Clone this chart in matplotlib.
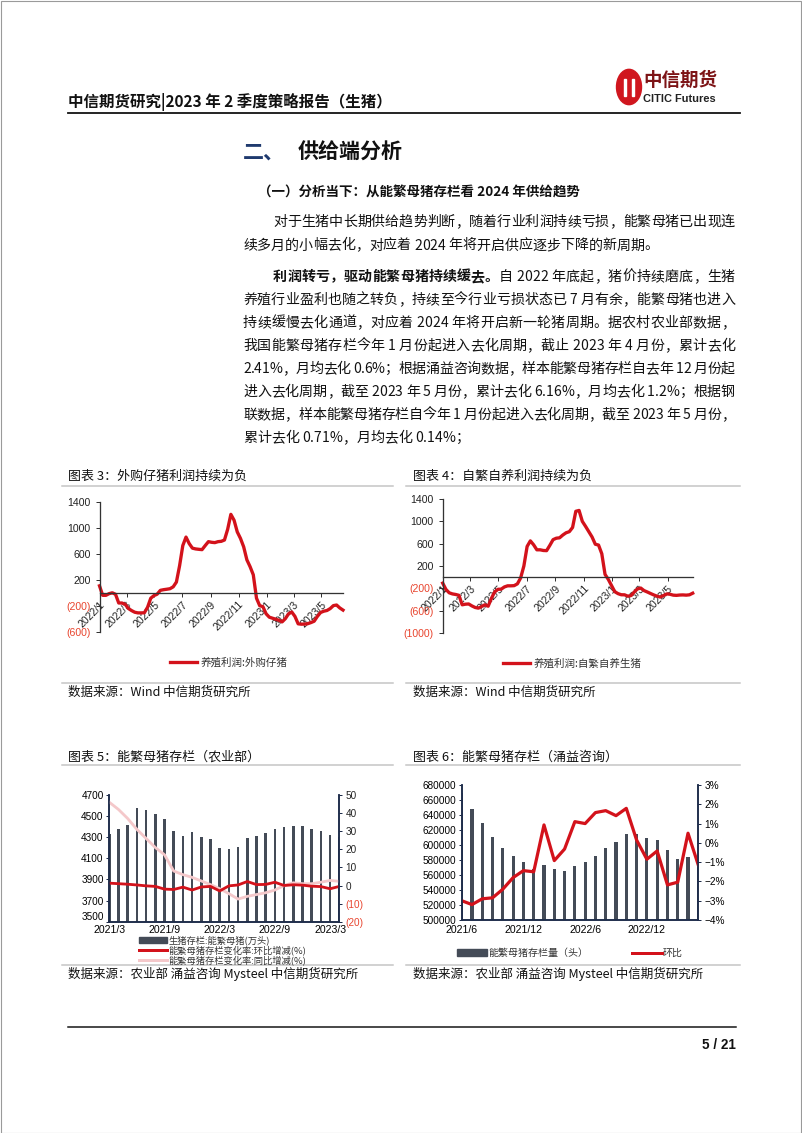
import numpy as np
import pandas as pd
import matplotlib
matplotlib.use('Agg')
import matplotlib.pyplot as plt
from matplotlib.patches import Rectangle, Circle, Patch
from matplotlib.lines import Line2D
from matplotlib.font_manager import FontProperties

plt.rcParams['font.family'] = ['Noto Sans CJK SC', 'DejaVu Sans']
plt.rcParams['axes.unicode_minus'] = False

# ---------------- data ----------------
# 图表3 外购仔猪养殖利润(元/头), 周度, 自2022/1起
profit_buy = [110, -36, -36, -10, 3, -20, -154, -154, -174, -238, -270, -296, -306, -306,
              -304, -220, -80, -40, -18, 41, 51, 58, 66, 95, 168, 420, 730, 860, 760, 690,
              678, 672, 667, 730, 790, 780, 775, 790, 795, 815, 980, 1210, 1120, 940, 840,
              710, 510, 405, 280, -80, -195, -210, -320, -372, -388, -403, -420, -444, -395,
              -320, -292, -360, -474, -480, -478, -472, -455, -434, -360, -300, -280, -269,
              -240, -194, -185, -230, -263]
# 图表4 自繁自养养殖利润(元/头), 周度
profit_self = [-107, -220, -280, -300, -310, -325, -495, -484, -480, -515, -543, -555, -525,
               -495, -520, -380, -265, -218, -215, -175, -155, -155, -152, -120, -15, 200,
               550, 650, 580, 490, 490, 478, 475, 570, 672, 698, 705, 755, 795, 815, 890,
               1180, 1195, 1000, 910, 815, 720, 590, 575, 420, 50, -40, -150, -260, -295,
               -315, -316, -340, -330, -265, -210, -195, -240, -265, -292, -318, -340, -356,
               -330, -300, -306, -322, -326, -320, -318, -322, -316, -287]
profit_ticks = ['2022/1', '2022/3', '2022/5', '2022/7', '2022/9', '2022/11', '2023/1', '2023/3', '2023/5']

# 图表5 农业部: 能繁母猪存栏(万头), 环比/同比(%), 2021/3-2023/4
sows_moa = [4330, 4378, 4416, 4580, 4555, 4517, 4473, 4362, 4312, 4346, 4305, 4283, 4198,
            4192, 4204, 4293, 4312, 4343, 4375, 4394, 4403, 4403, 4381, 4359, 4321, 4299]
mom_moa = [1.3, 1.0, 0.7, 0.3, -0.2, -0.5, -2.0, -2.2, -0.9, -2.5, -0.8, -0.5, -3.0,
           -0.2, 0.3, 2.2, 0.5, 0.6, 1.8, 0.0, 0.4, 0.2, -0.4, -0.6, -1.8, -0.5]
yoy_moa = [46, 42, 37, 31, 26, 21, 17, 8, 6, 4.5, 2.5, 0.5, -1.8, -4.5, -7.5, -6.0, -5.0,
           -4.0, -2.5, 0.0, 1.5, 1.0, 1.0, 1.8, 2.8, 2.3]
months_moa = [f'{p.year}/{p.month}' for p in pd.period_range('2021-03', periods=26, freq='M')]

# 图表6 涌益咨询: 能繁母猪存栏量(头), 环比(%), 2021/6-2023/5
sows_yy = [669800, 648000, 629000, 611000, 596000, 585000, 577000, 568000, 573000, 568000,
           566000, 572000, 577000, 586000, 596000, 604000, 615000, 615000, 610000, 607000,
           594000, 582000, 584000, 577000]
mom_yy = [-3.0, -3.2, -2.9, -2.85, -2.4, -1.8, -1.44, -1.5, 0.93, -0.92, -0.32, 1.1, 1.0,
          1.57, 1.67, 1.41, 1.79, 0.15, -0.85, -0.42, -2.18, -2.04, 0.5, -1.15]
months_yy = [f'{p.year}/{p.month}' for p in pd.period_range('2021-06', periods=24, freq='M')]

para1 = [
    [("对于生猪中长期供给趋势判断，随着行业利润持续亏损，能繁母猪已出现连", 'normal')],
    [("续多月的小幅去化，对应着 2024 年将开启供应逐步下降的新周期。", 'normal')],
]
para2 = [
    [("利润转亏，驱动能繁母猪持续缓去。", 'bold'), ("自 2022 年底起，猪价持续磨底，生猪", 'normal')],
    [("养殖行业盈利也随之转负，持续至今行业亏损状态已 7 月有余，能繁母猪也进入", 'normal')],
    [("持续缓慢去化通道，对应着 2024 年将开启新一轮猪周期。据农村农业部数据，", 'normal')],
    [("我国能繁母猪存栏今年 1 月份起进入去化周期，截止 2023 年 4 月份，累计去化", 'normal')],
    [("2.41%，月均去化 0.6%；根据涌益咨询数据，样本能繁母猪存栏自去年 12 月份起", 'normal')],
    [("进入去化周期，截至 2023 年 5 月份，累计去化 6.16%，月均去化 1.2%；根据钢", 'normal')],
    [("联数据，样本能繁母猪存栏自今年 1 月份起进入去化周期，截至 2023 年 5 月份，", 'normal')],
    [("累计去化 0.71%，月均去化 0.14%；", 'normal')],
]

# ---------------- style ----------------
W, H = 802, 1133
RED = '#d3121b'
NEG = '#e8452f'
BAR = '#444b57'
PINK = '#f4c8ca'
NAVY = '#1e2c4b'
GRID = '#c4c4c4'
NUM = ['Liberation Sans', 'DejaVu Sans']
CJK = ['Noto Sans CJK SC', 'DejaVu Sans']

fig = plt.figure(figsize=(W / 100, H / 100), dpi=100)


def fx(x):
    return x / W


def fy(y):
    return 1 - y / H


def pt(px):
    return px * 0.72


def txt(x, y, s, px, **kw):
    kw.setdefault('va', 'center')
    fig.text(fx(x), fy(y), s, fontsize=pt(px), **kw)


def hline(x0, x1, y, color=GRID, lw_px=1.5):
    fig.add_artist(Line2D([fx(x0), fx(x1)], [fy(y), fy(y)], color=color,
                          lw=pt(lw_px), transform=fig.transFigure))


def axes_px(l, t, r, b):
    return fig.add_axes([fx(l), fy(b), (r - l) / W, (b - t) / H])


def paren(v):
    return f'({abs(int(v))})' if v < 0 else f'{int(v)}'


# page frame
fig.add_artist(Rectangle((0.5 / W, 0.5 / H), 1 - 1.5 / W, 1 - 1.5 / H, fill=False,
                         edgecolor='#9a9a9a', lw=0.8, transform=fig.transFigure))

# ---------------- header ----------------
txt(68, 102, '中信期货研究|2023 年 2 季度策略报告（生猪）', 15.5, weight='bold', color='#111')
hline(68, 740, 113, color='#111', lw_px=1.8)
fig.add_artist(Circle((fx(629), fy(87)), 12.5 / W, color='#d0161e', transform=fig.transFigure))
fig.add_artist(Rectangle((fx(624), fy(96)), 2.2 / W, 17 / H, color='white', transform=fig.transFigure))
fig.add_artist(Rectangle((fx(632), fy(96)), 2.2 / W, 17 / H, color='white', transform=fig.transFigure))
txt(643, 80, '中信期货', 18.5, weight='bold', color='#7d1416')
txt(643, 99, 'CITIC Futures', 11, weight='bold', color='#222', family=NUM)

txt(243, 152, '二、', 21, weight='bold', color='#1f3a6e')
txt(298, 152, '供给端分析', 21, weight='bold', color='#111')
txt(258, 193, '（一）分析当下：从能繁母猪存栏看 2024 年供给趋势', 13.5, weight='bold', color='#111')

# ---------------- body text (justified) ----------------
renderer = fig.canvas.get_renderer()
props = {w: FontProperties(family=CJK, size=pt(14), weight=w) for w in ('normal', 'bold')}
_cache = {}


def adv(ch, w):
    key = (ch, w)
    if key not in _cache:
        p = props[w]
        a = renderer.get_text_width_height_descent('字' + ch + '字', p, ismath=False)[0]
        b = renderer.get_text_width_height_descent('字字', p, ismath=False)[0]
        _cache[key] = a - b
    return _cache[key]


def put_line(x0, x1, y, segs, justify):
    chars = [(c, w) for s, w in segs for c in s]
    widths = [adv(c, w) for c, w in chars]
    gap = (x1 - x0 - sum(widths)) / (len(chars) - 1) if justify else 0
    x = x0
    for (c, w), cw in zip(chars, widths):
        if c != ' ':
            fig.text(fx(x), fy(y), c, fontproperties=props[w], va='center', ha='left', color='#111')
        x += cw + gap


def put_para(lines, y0, step):
    for i, segs in enumerate(lines):
        x0 = 273 if i == 0 else 243
        put_line(x0, 735, y0 + i * step, segs, i < len(lines) - 1)


put_para(para1, 222, 23.5)
put_para(para2, 277, 23)

# ---------------- chart titles / sources ----------------
txt(68, 476, '图表 3：外购仔猪利润持续为负', 13, color='#111')
txt(413, 476, '图表 4：自繁自养利润持续为负', 13, color='#111')
hline(62, 393, 486)
hline(406, 740, 486)
hline(62, 393, 683)
hline(406, 740, 683)
txt(68, 692, '数据来源：Wind 中信期货研究所', 12.5, color='#111')
txt(413, 692, '数据来源：Wind 中信期货研究所', 12.5, color='#111')

txt(68, 757, '图表 5：能繁母猪存栏（农业部）', 13, color='#111')
txt(413, 757, '图表 6：能繁母猪存栏（涌益咨询）', 13, color='#111')
hline(62, 393, 765)
hline(406, 740, 765)
hline(62, 393, 965)
hline(406, 740, 965)
txt(68, 974, '数据来源：农业部 涌益咨询 Mysteel 中信期货研究所', 12.5, color='#111')
txt(413, 974, '数据来源：农业部 涌益咨询 Mysteel 中信期货研究所', 12.5, color='#111')

hline(68, 736, 1027, color='#111', lw_px=1.5)
txt(736, 1045, '5 / 21', 13.5, ha='right', weight='bold', color='#111', family=NUM)


# ---------------- profit charts ----------------
def profit_chart(rect, values, yticks, label, leg_x, leg_y):
    ax = axes_px(*rect)
    dates = pd.date_range('2022-01-01', periods=len(values), freq='7D')
    ax.plot(dates, values, color=RED, lw=pt(3.3), solid_joinstyle='round', clip_on=False)
    ax.set_ylim(yticks[0], yticks[-1])
    ax.set_xlim(dates[0], dates[-1])
    ax.patch.set_alpha(0)
    ax.spines[['top', 'right']].set_visible(False)
    ax.spines['bottom'].set_position(('data', 0))
    for s in ('left', 'bottom'):
        ax.spines[s].set_color('#333')
        ax.spines[s].set_linewidth(pt(1.3))
    ax.set_yticks(yticks, [paren(v) for v in yticks], fontfamily=NUM)
    for lab, v in zip(ax.get_yticklabels(), yticks):
        lab.set_color(NEG if v < 0 else '#222')
    ticks = [pd.Timestamp(t.replace('/', '-') + '-01') for t in profit_ticks]
    ax.set_xticks(ticks, profit_ticks, rotation=45, ha='right', rotation_mode='anchor',
                  fontfamily=NUM, color='#222')
    ax.tick_params(axis='both', labelsize=pt(10.5), length=3, width=pt(1), color='#333', pad=1.5)
    ax.tick_params(axis='y', pad=3.5)
    h = Line2D([], [], color=RED, lw=pt(3.3))
    fig.legend([h], [label], loc='center left', bbox_to_anchor=(fx(leg_x), fy(leg_y)),
               bbox_transform=fig.transFigure, frameon=False, fontsize=pt(10.5),
               handlelength=2.6, handletextpad=0.3, borderpad=0, borderaxespad=0,
               labelcolor='#333')
    return ax


profit_chart((99.5, 502, 343, 632), profit_buy, [-600, -200, 200, 600, 1000, 1400],
             '养殖利润:外购仔猪', 170, 662)
profit_chart((442.7, 499, 692.7, 633), profit_self, [-1000, -600, -200, 200, 600, 1000, 1400],
             '养殖利润:自繁自养生猪', 503, 663)


def style_dual(ax, axr, xpad):
    for a in (ax, axr):
        a.spines['top'].set_visible(False)
        for s in ('left', 'right', 'bottom'):
            a.spines[s].set_color(NAVY)
            a.spines[s].set_linewidth(pt(1.6))
    ax.tick_params(axis='x', length=0, labelsize=pt(10.5), pad=xpad)
    ax.tick_params(axis='y', length=2.5, width=pt(1), color=NAVY, labelsize=pt(10), pad=1.5)
    axr.tick_params(axis='y', length=2.5, width=pt(1), color=NAVY, labelsize=pt(10), pad=2)


# ---------------- chart 5 ----------------
ax5 = axes_px(109.3, 795, 339.3, 921.7)
x5 = np.arange(len(sows_moa))
ax5.bar(x5, sows_moa, width=0.3, color=BAR)
ax5.set_ylim(3500, 4700)
ax5.set_xlim(x5[0], x5[-1])
ax5r = ax5.twinx()
ax5r.plot(x5, yoy_moa, color=PINK, lw=pt(2.8))
ax5r.plot(x5, mom_moa, color=RED, lw=pt(2.8))
ax5r.set_ylim(-20, 50)
ax5.set_xticks(x5[::6], [months_moa[i] for i in x5[::6]], fontfamily=NUM)
yl5 = list(range(3500, 4701, 200))
ax5.set_yticks(yl5, [str(v) for v in yl5], fontfamily=NUM)
ax5.get_yticklabels()[0].set_va('bottom')
yr5 = list(range(-20, 51, 10))
ax5r.set_yticks(yr5, [paren(v) for v in yr5], fontfamily=NUM)
for lab, v in zip(ax5r.get_yticklabels(), yr5):
    lab.set_color(NEG if v < 0 else '#222')
style_dual(ax5, ax5r, 2.5)
fig.legend([Patch(color=BAR), Line2D([], [], color=RED, lw=pt(3)), Line2D([], [], color=PINK, lw=pt(3))],
           ['生猪存栏:能繁母猪(万头)', '能繁母猪存栏变化率:环比增减(%)', '能繁母猪存栏变化率:同比增减(%)'],
           loc='center left', bbox_to_anchor=(fx(139), fy(950.5)), bbox_transform=fig.transFigure,
           frameon=False, fontsize=pt(9.3), handlelength=3.0, handleheight=0.6, handletextpad=0.15,
           labelspacing=0.0, borderpad=0, borderaxespad=0, labelcolor='#333')

# ---------------- chart 6 ----------------
ax6 = axes_px(461.7, 785, 698.3, 920)
x6 = np.arange(len(sows_yy))
ax6.bar(x6, sows_yy, width=0.3, color=BAR)
ax6.set_ylim(500000, 680000)
ax6.set_xlim(x6[0], x6[-1])
ax6r = ax6.twinx()
ax6r.plot(x6, mom_yy, color=RED, lw=pt(3.2))
ax6r.set_ylim(-4, 3)
ax6.set_xticks(x6[:19:6], [months_yy[i] for i in x6[:19:6]], fontfamily=NUM)
yl6 = list(range(500000, 680001, 20000))
ax6.set_yticks(yl6, [str(v) for v in yl6], fontfamily=NUM)
yr6 = list(range(-4, 4))
ax6r.set_yticks(yr6, [f'{v}%'.replace('-', '\u2212') for v in yr6], fontfamily=NUM)
style_dual(ax6, ax6r, pt(5))
fig.legend([Patch(color=BAR), Line2D([], [], color=RED, lw=pt(3))],
           ['能繁母猪存栏量（头）', '环比'], ncol=2,
           loc='center left', bbox_to_anchor=(fx(457), fy(953)), bbox_transform=fig.transFigure,
           frameon=False, fontsize=pt(10), handlelength=3.0, handleheight=0.6, handletextpad=0.15,
           columnspacing=4.3, borderpad=0, borderaxespad=0, labelcolor='#333')

fig.savefig('out.png', dpi=100)
